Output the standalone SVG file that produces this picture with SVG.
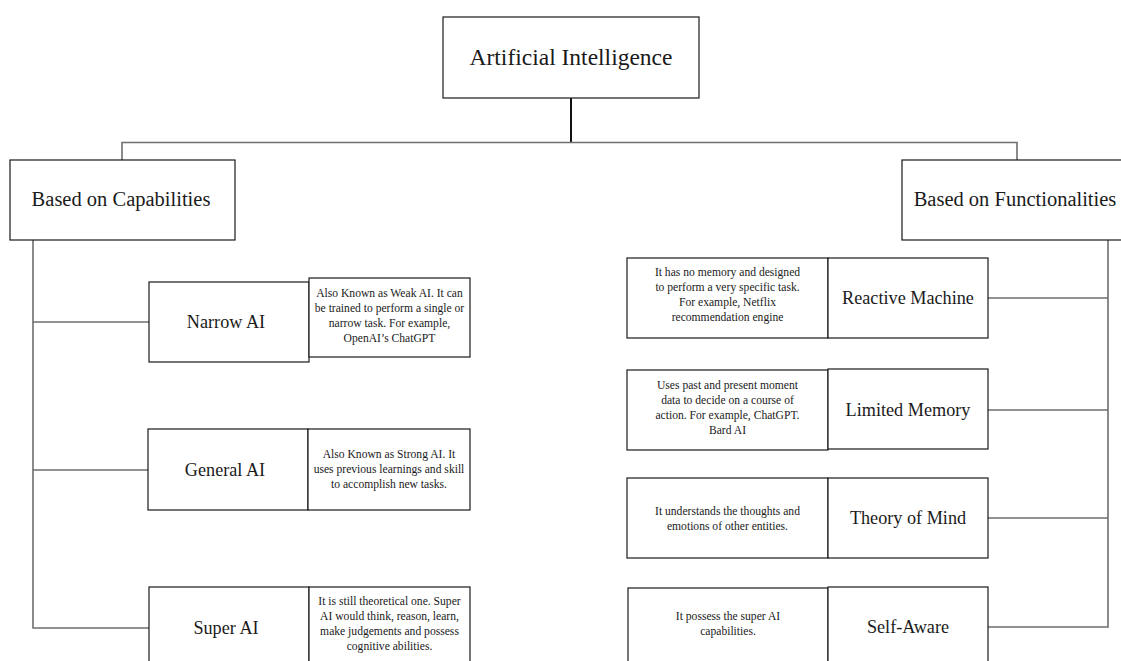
<svg xmlns="http://www.w3.org/2000/svg" width="1121" height="661" viewBox="0 0 1121 661">
<style>
.box{fill:#fff;stroke:#1a1a1a;stroke-width:1.2}
.c{fill:none;stroke:#6e6e6e;stroke-width:1.6}
text{font-family:"Liberation Serif","Times New Roman","DejaVu Serif",serif;fill:#1a1a1a;text-anchor:middle}
.t1{font-size:23.5px}
.t2{font-size:20.5px}
.t3{font-size:18.2px}
.d{font-size:11.6px}
</style>
<rect width="1121" height="661" fill="#fff"/>
<g id="connectors">
<line x1="571" y1="98" x2="571" y2="142" stroke="#111" stroke-width="2"/>
<polyline class="c" points="122,160 122,142.5 1017,142.5 1017,160"/>
<polyline class="c" points="33,240 33,628 149,628"/>
<line class="c" x1="33" y1="322" x2="149" y2="322"/>
<line class="c" x1="33" y1="470" x2="148" y2="470"/>
<polyline class="c" points="1108,240 1108,627 988,627"/>
<line class="c" x1="988" y1="298" x2="1108" y2="298"/>
<line class="c" x1="988" y1="410" x2="1108" y2="410"/>
<line class="c" x1="988" y1="518" x2="1108" y2="518"/>
</g>
<g id="ai">
<rect class="box" x="443" y="17" width="256" height="81"/>
<text class="t1" x="571" y="65">Artificial Intelligence</text>
</g>
<g id="capabilities">
<rect class="box" x="10" y="160" width="225" height="80"/>
<text class="t2" x="121" y="206">Based on Capabilities</text>
</g>
<g id="functionalities">
<rect class="box" x="902" y="160" width="225" height="80"/>
<text class="t2" x="1015" y="206">Based on Functionalities</text>
</g>
<g id="narrow">
<rect class="box" x="149" y="282" width="160" height="80"/>
<text class="t3" x="226" y="328">Narrow AI</text>
<rect class="box" x="309" y="278" width="161" height="79"/>
<text class="d" x="389.5" y="297">Also Known as Weak AI. It can</text>
<text class="d" x="389.5" y="312">be trained to perform a single or</text>
<text class="d" x="389.5" y="327">narrow task. For example,</text>
<text class="d" x="389.5" y="342">OpenAI’s ChatGPT</text>
</g>
<g id="general">
<rect class="box" x="148" y="429" width="160" height="81"/>
<text class="t3" x="225" y="476">General AI</text>
<rect class="box" x="308" y="429" width="162" height="81"/>
<text class="d" x="389" y="458">Also Known as Strong AI. It</text>
<text class="d" x="389" y="473">uses previous learnings and skill</text>
<text class="d" x="389" y="488">to accomplish new tasks.</text>
</g>
<g id="super">
<rect class="box" x="149" y="587" width="160" height="80"/>
<text class="t3" x="226" y="634">Super AI</text>
<rect class="box" x="309" y="587" width="161" height="80"/>
<text class="d" x="389.5" y="605">It is still theoretical one. Super</text>
<text class="d" x="389.5" y="620">AI would think, reason, learn,</text>
<text class="d" x="389.5" y="635">make judgements and possess</text>
<text class="d" x="389.5" y="650">cognitive abilities.</text>
</g>
<g id="reactive">
<rect class="box" x="627" y="258" width="201" height="80"/>
<text class="d" x="727.5" y="276">It has no memory and designed</text>
<text class="d" x="727.5" y="291">to perform a very specific task.</text>
<text class="d" x="727.5" y="306">For example, Netflix</text>
<text class="d" x="727.5" y="321">recommendation engine</text>
<rect class="box" x="828" y="258" width="160" height="80"/>
<text class="t3" x="908" y="304">Reactive Machine</text>
</g>
<g id="limited">
<rect class="box" x="627" y="370" width="201" height="80"/>
<text class="d" x="727.5" y="389">Uses past and present moment</text>
<text class="d" x="727.5" y="404">data to decide on a course of</text>
<text class="d" x="727.5" y="419">action. For example, ChatGPT.</text>
<text class="d" x="727.5" y="434">Bard AI</text>
<rect class="box" x="828" y="369" width="160" height="80"/>
<text class="t3" x="908" y="416">Limited Memory</text>
</g>
<g id="theory">
<rect class="box" x="627" y="478" width="201" height="80"/>
<text class="d" x="727.5" y="515">It understands the thoughts and</text>
<text class="d" x="727.5" y="530">emotions of other entities.</text>
<rect class="box" x="828" y="478" width="160" height="80"/>
<text class="t3" x="908" y="524">Theory of Mind</text>
</g>
<g id="selfaware">
<rect class="box" x="628" y="588" width="200" height="80"/>
<text class="d" x="728" y="620">It possess the super AI</text>
<text class="d" x="728" y="635">capabilities.</text>
<rect class="box" x="828" y="587" width="160" height="80"/>
<text class="t3" x="908" y="633">Self-Aware</text>
</g>
</svg>
